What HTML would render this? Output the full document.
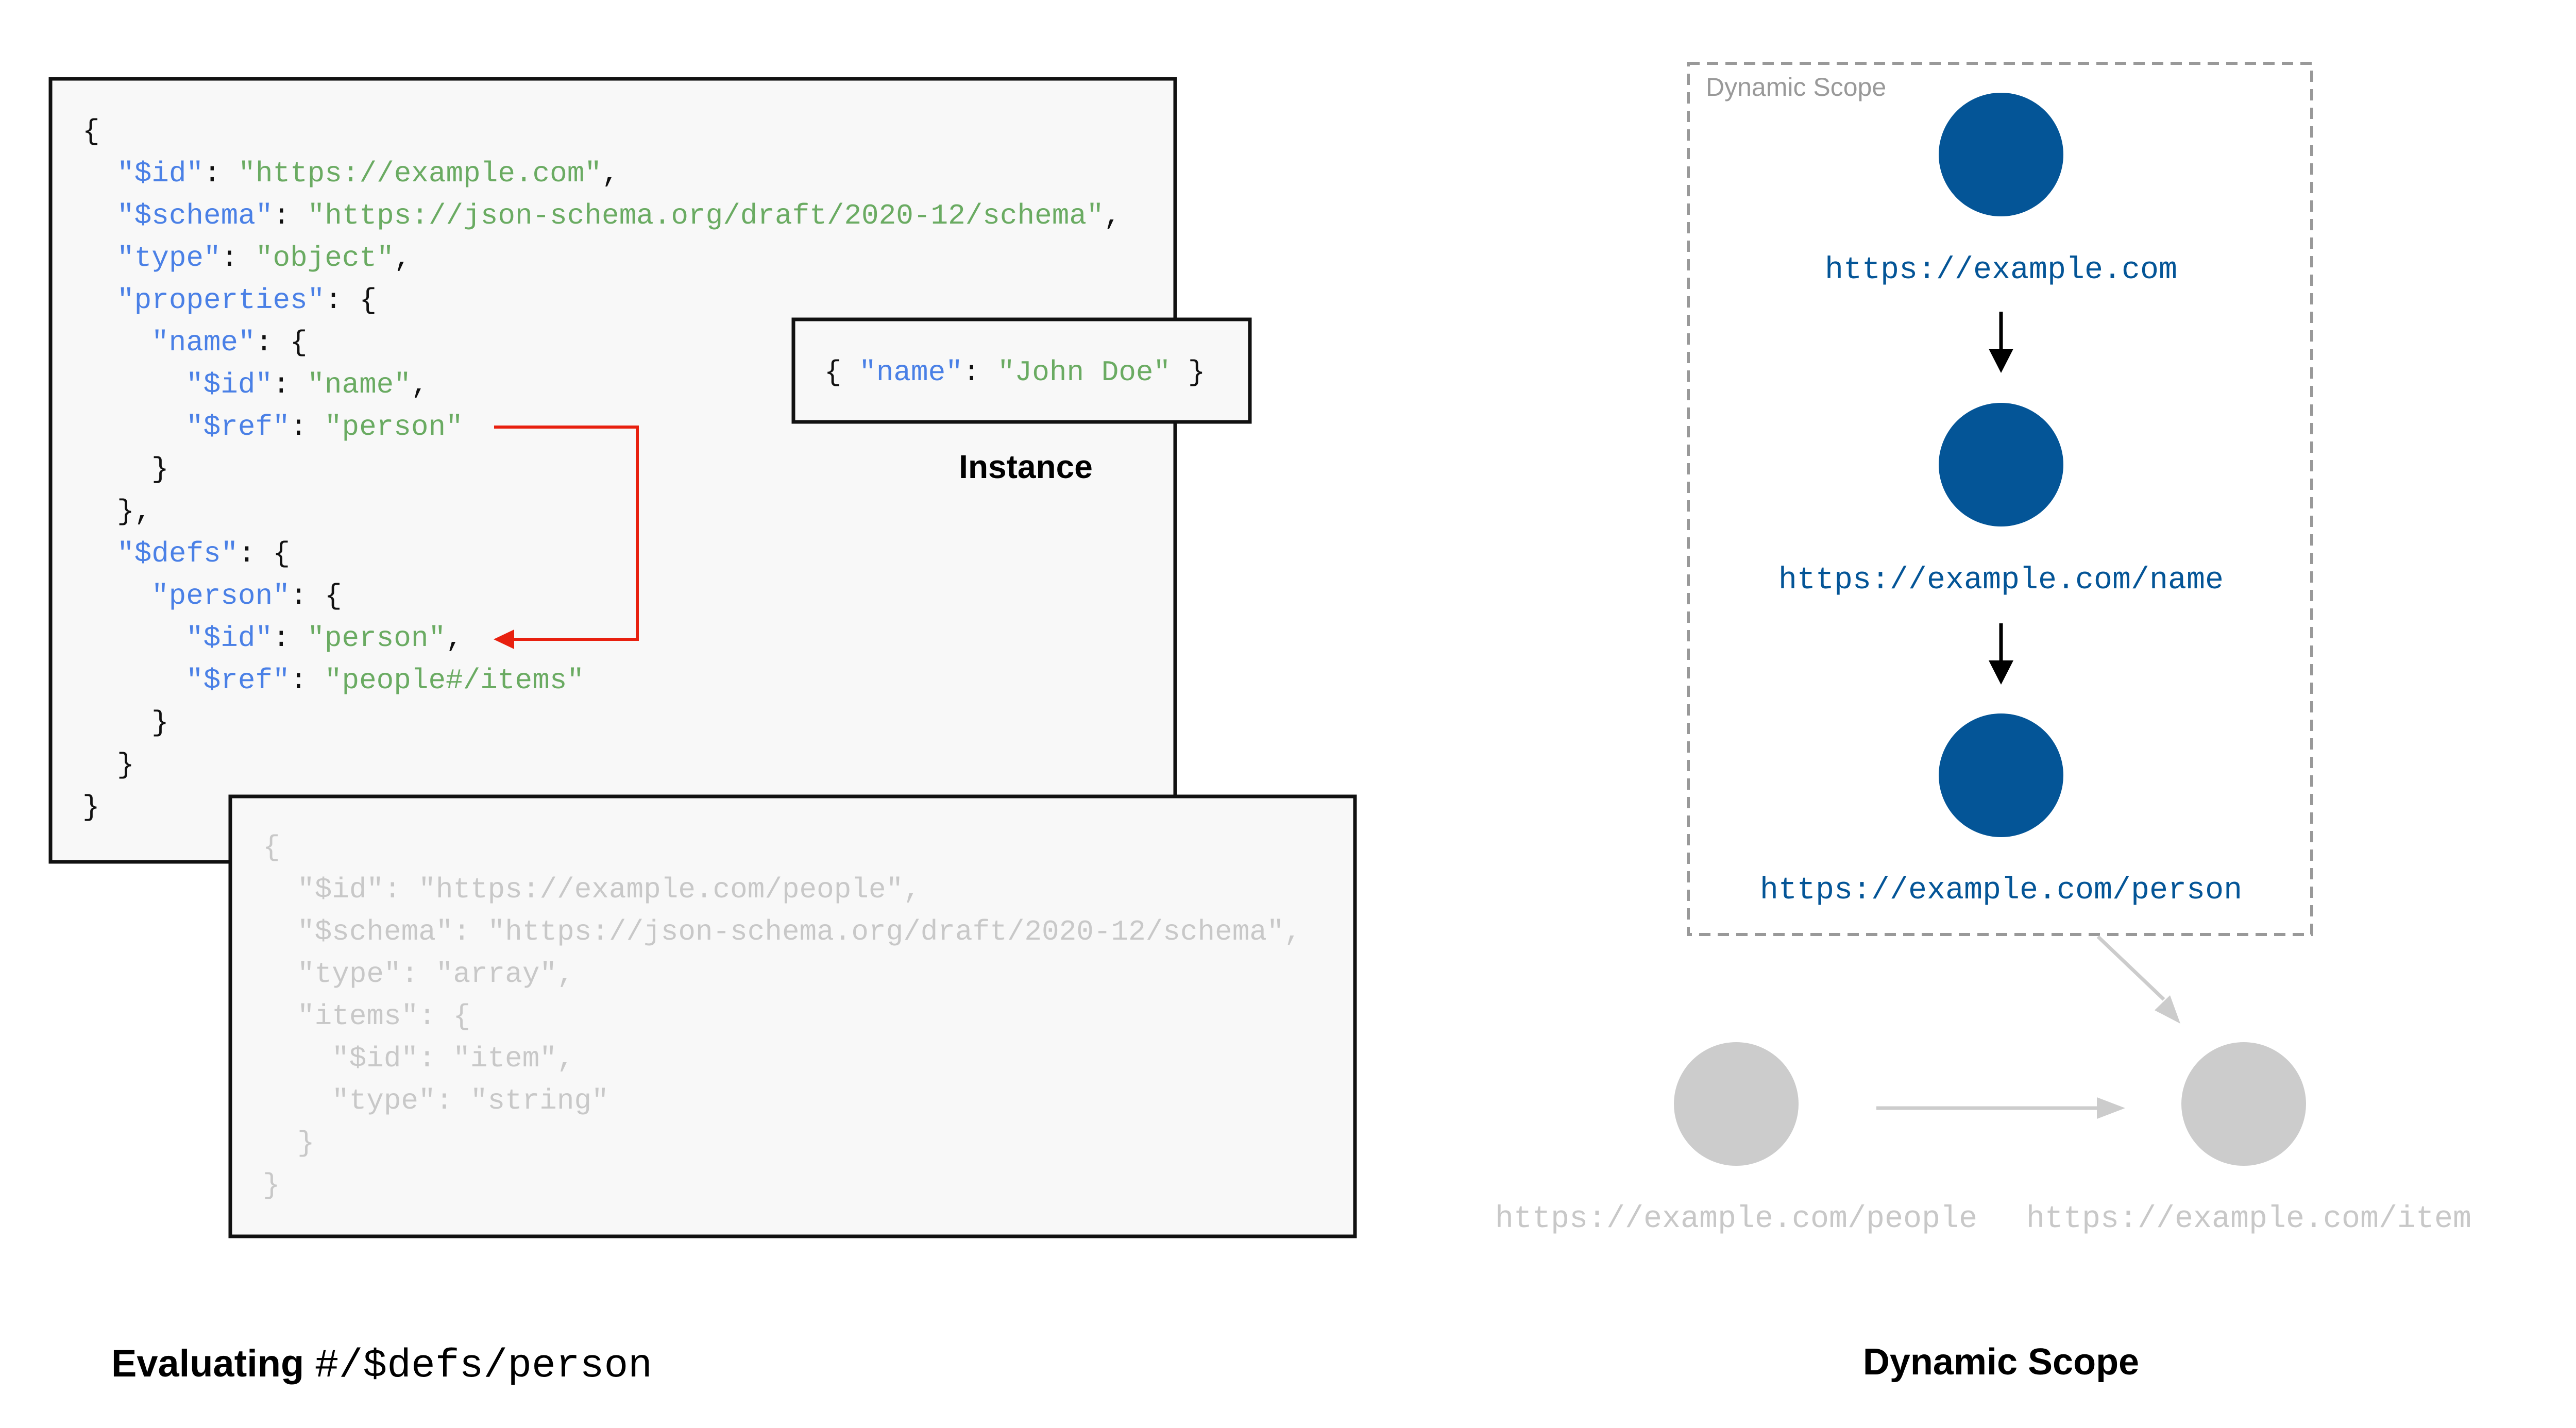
<!DOCTYPE html>
<html><head><meta charset="utf-8"><style>
html,body{margin:0;padding:0;background:#fff;}
svg{display:block}
.m{font-family:"Liberation Mono",monospace;font-size:56px;white-space:pre}
.b{fill:#4a80e6}.g{fill:#6aab62}.k{fill:#111}
.gr{fill:#c8c8c8}
</style></head><body>
<svg width="5082" height="2772" viewBox="0 0 5082 2772" xmlns="http://www.w3.org/2000/svg">
<rect x="98" y="153" width="2183" height="1520" fill="#f8f8f8" stroke="#111" stroke-width="7"/>
<g class="m" xml:space="preserve">
<text x="160" y="270" class="k">{</text>
<text x="227" y="352"><tspan class="b">"$id"</tspan><tspan class="k">: </tspan><tspan class="g">"https://example.com"</tspan><tspan class="k">,</tspan></text>
<text x="227" y="434"><tspan class="b">"$schema"</tspan><tspan class="k">: </tspan><tspan class="g">"https://json-schema.org/draft/2020-12/schema"</tspan><tspan class="k">,</tspan></text>
<text x="227" y="516"><tspan class="b">"type"</tspan><tspan class="k">: </tspan><tspan class="g">"object"</tspan><tspan class="k">,</tspan></text>
<text x="227" y="598"><tspan class="b">"properties"</tspan><tspan class="k">: {</tspan></text>
<text x="294" y="680"><tspan class="b">"name"</tspan><tspan class="k">: {</tspan></text>
<text x="361" y="762"><tspan class="b">"$id"</tspan><tspan class="k">: </tspan><tspan class="g">"name"</tspan><tspan class="k">,</tspan></text>
<text x="361" y="844"><tspan class="b">"$ref"</tspan><tspan class="k">: </tspan><tspan class="g">"person"</tspan></text>
<text x="294" y="926" class="k">}</text>
<text x="227" y="1008" class="k">},</text>
<text x="227" y="1090"><tspan class="b">"$defs"</tspan><tspan class="k">: {</tspan></text>
<text x="294" y="1172"><tspan class="b">"person"</tspan><tspan class="k">: {</tspan></text>
<text x="361" y="1254"><tspan class="b">"$id"</tspan><tspan class="k">: </tspan><tspan class="g">"person"</tspan><tspan class="k">,</tspan></text>
<text x="361" y="1336"><tspan class="b">"$ref"</tspan><tspan class="k">: </tspan><tspan class="g">"people#/items"</tspan></text>
<text x="294" y="1418" class="k">}</text>
<text x="227" y="1500" class="k">}</text>
<text x="160" y="1582" class="k">}</text>
</g>
<polyline points="959,829 1237,829 1237,1241 990,1241" fill="none" stroke="#e8200f" stroke-width="6"/>
<path d="M958,1241 L998,1222 L998,1260z" fill="#e8200f"/>
<rect x="1540" y="620" width="886" height="199" fill="#f8f8f8" stroke="#111" stroke-width="7"/>
<text x="1600" y="738" class="m" xml:space="preserve"><tspan class="k">{ </tspan><tspan class="b">"name"</tspan><tspan class="k">: </tspan><tspan class="g">"John Doe"</tspan><tspan class="k"> }</tspan></text>
<text x="1991" y="928" text-anchor="middle" font-family="Liberation Sans,sans-serif" font-weight="bold" font-size="64" fill="#000">Instance</text>
<rect x="447" y="1546" width="2183" height="854" fill="#f8f8f8" stroke="#111" stroke-width="7"/>
<g class="m gr" xml:space="preserve">
<text x="510" y="1660">{</text>
<text x="577" y="1742">"$id": "https://example.com/people",</text>
<text x="577" y="1824">"$schema": "https://json-schema.org/draft/2020-12/schema",</text>
<text x="577" y="1906">"type": "array",</text>
<text x="577" y="1988">"items": {</text>
<text x="644" y="2070">"$id": "item",</text>
<text x="644" y="2152">"type": "string"</text>
<text x="577" y="2234">}</text>
<text x="510" y="2316">}</text>
</g>
<text x="216" y="2672" font-size="74" fill="#000"><tspan font-family="Liberation Sans,sans-serif" font-weight="bold">Evaluating </tspan><tspan font-family="Liberation Mono,monospace" font-size="78">#/$defs/person</tspan></text>
<rect x="3277" y="123" width="1210" height="1691" fill="none" stroke="#999" stroke-width="6" stroke-dasharray="22,14"/>
<text x="3311" y="186" font-family="Liberation Sans,sans-serif" font-size="50" fill="#999">Dynamic Scope</text>
<g fill="#045597">
<ellipse cx="3884" cy="300" rx="121" ry="120"/>
<ellipse cx="3884" cy="902" rx="121" ry="120"/>
<ellipse cx="3884" cy="1505" rx="121" ry="120"/>
</g>
<g font-family="Liberation Mono,monospace" font-size="60" fill="#045597" text-anchor="middle">
<text x="3884" y="540">https://example.com</text>
<text x="3884" y="1142">https://example.com/name</text>
<text x="3884" y="1744">https://example.com/person</text>
</g>
<g stroke="#000" stroke-width="7"><line x1="3884" y1="605" x2="3884" y2="680"/><line x1="3884" y1="1210" x2="3884" y2="1285"/></g>
<g fill="#000"><path d="M3860,677 L3908,677 L3884,724z"/><path d="M3860,1282 L3908,1282 L3884,1329z"/></g>
<g fill="#cccccc">
<ellipse cx="3370" cy="2143" rx="121" ry="120"/>
<ellipse cx="4355" cy="2143" rx="121" ry="120"/>
</g>
<line x1="3642" y1="2151" x2="4075" y2="2151" stroke="#ccc" stroke-width="7"/>
<path d="M4070,2130 L4125,2151 L4070,2172z" fill="#ccc"/>
<line x1="4072" y1="1818" x2="4200" y2="1940" stroke="#ccc" stroke-width="7"/>
<path d="M4182,1961 L4232,1987 L4212,1932z" fill="#ccc"/>
<g font-family="Liberation Mono,monospace" font-size="60" fill="#c8c8c8" text-anchor="middle">
<text x="3370" y="2382">https://example.com/people</text>
<text x="4365" y="2382">https://example.com/item</text>
</g>
<text x="3884" y="2668" text-anchor="middle" font-family="Liberation Sans,sans-serif" font-weight="bold" font-size="72" fill="#000">Dynamic Scope</text>
</svg>
</body></html>
